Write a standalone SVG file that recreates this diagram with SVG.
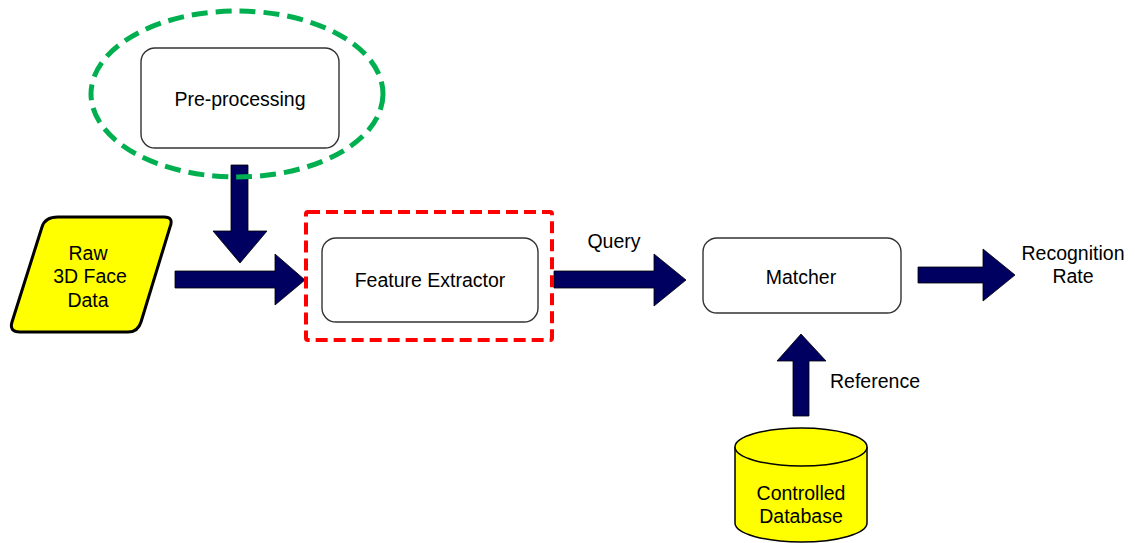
<svg xmlns="http://www.w3.org/2000/svg" width="1135" height="543" viewBox="0 0 1135 543">
  <style>
    .lbl { font-family: "Liberation Sans", Arial, sans-serif; font-size: 19.5px; fill: #000; text-anchor: middle; }
    .box { fill: #fff; stroke: #333; stroke-width: 1.4; }
    .arrow { fill: #000060; stroke: #000; stroke-width: 0.8; }
    .yellow { fill: #ffff00; stroke: #000; }
  </style>
  <rect width="1135" height="543" fill="#fff"/>

  <g id="preprocessing">
    <rect class="box" x="141" y="48" width="198" height="100" rx="14"/>
    <text class="lbl" x="240" y="106">Pre-processing</text>
  </g>

  <g id="raw-data">
    <path class="yellow" stroke-width="3" d="M58 217 H164 Q174 217 170 227 L141 322 Q138 332 128 332 H20 Q9 332 12 322 L42 227 Q45 217 58 217 Z"/>
    <text class="lbl" x="88" y="260">Raw</text>
    <text class="lbl" x="90" y="283">3D Face</text>
    <text class="lbl" x="88" y="307">Data</text>
  </g>

  <g id="feature-extractor">
    <rect class="box" x="322" y="238" width="216" height="84" rx="14"/>
    <text class="lbl" x="430" y="287">Feature Extractor</text>
  </g>

  <g id="matcher">
    <rect class="box" x="703" y="238" width="198" height="75" rx="14"/>
    <text class="lbl" x="801" y="284">Matcher</text>
  </g>

  <g id="recognition-rate">
    <text class="lbl" x="1073" y="260">Recognition</text>
    <text class="lbl" x="1073" y="283">Rate</text>
  </g>

  <g id="database">
    <path class="yellow" stroke-width="1.5" d="M735 447 V523 A66 19 0 0 0 867 523 V447"/>
    <ellipse class="yellow" stroke-width="1.5" cx="801" cy="447" rx="66" ry="19"/>
    <text class="lbl" x="801" y="500">Controlled</text>
    <text class="lbl" x="801" y="523">Database</text>
  </g>

  <g id="connectors">
    <!-- pre-processing down into the input stream -->
    <path class="arrow" d="M231 165 H248 V231 H267 L240 263 L213 231 H231 Z"/>
    <!-- raw data to feature extractor -->
    <path class="arrow" d="M175 271 H275 V254 L305 280 L275 305 V288 H175 Z"/>
    <!-- feature extractor to matcher -->
    <path class="arrow" d="M554 271 H654 V254 L686 280 L654 306 V288 H554 Z"/>
    <text class="lbl" x="614" y="248">Query</text>
    <!-- matcher to output -->
    <path class="arrow" d="M918 267 H983 V249 L1015 275 L983 301 V283 H918 Z"/>
    <!-- database to matcher -->
    <path class="arrow" d="M793 416 V361 H777 L801 334 L826 361 H809 V416 Z"/>
    <text class="lbl" x="875" y="388">Reference</text>
  </g>

  <!-- dashed highlights, drawn over the arrows -->
  <g id="preprocessing-highlight">
    <ellipse cx="237" cy="94" rx="146" ry="83" fill="none" stroke="#00b050" stroke-width="5" stroke-dasharray="16 8"/>
  </g>
  <g id="feature-highlight">
    <rect x="306" y="212" width="246" height="128" rx="2" fill="none" stroke="#ff0000" stroke-width="4" stroke-dasharray="12 6"/>
  </g>
</svg>
